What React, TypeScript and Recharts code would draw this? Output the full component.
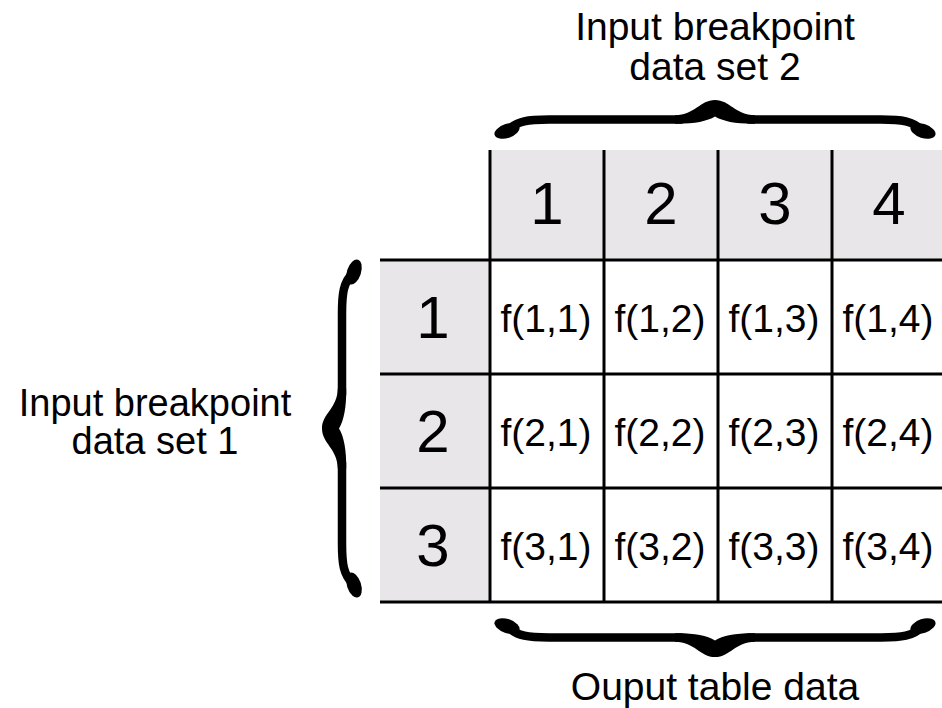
import React from 'react';
import { ComposedChart, XAxis, YAxis, ReferenceArea, ReferenceLine, Scatter } from 'recharts';

// ---- data ----
const colLabels = ['1', '2', '3', '4'];
const rowLabels = ['1', '2', '3'];
const cellLabels = [
  ['f(1,1)', 'f(1,2)', 'f(1,3)', 'f(1,4)'],
  ['f(2,1)', 'f(2,2)', 'f(2,3)', 'f(2,4)'],
  ['f(3,1)', 'f(3,2)', 'f(3,3)', 'f(3,4)'],
];
const topCaption = ['Input breakpoint', 'data set 2'];
const leftCaption = ['Input breakpoint', 'data set 1'];
const bottomCaption = ['Ouput table data'];

// ---- layout ----
const W = 942;
const H = 708;
const UNIT = 114; // px per grid unit
const X0 = 490; // px of grid origin
const Y0 = 260;
const HEAD = 110 / UNIT; // header band size in units
const xDomain: [number, number] = [-X0 / UNIT, (W - X0) / UNIT];
const yDomain: [number, number] = [-Y0 / UNIT, (H - Y0) / UNIT];
const px = (p: number, o: number) => (p - o) / UNIT; // px -> units helper for decorations

const FONT = '"Liberation Sans", Arial, Helvetica, sans-serif';
const INK = '#000';
const GREY = '#e9e6ea';

const colHeaderPts = colLabels.map((l, c) => ({ x: c + 0.5, y: -HEAD / 2, label: l }));
const rowHeaderPts = rowLabels.map((l, r) => ({ x: -HEAD / 2, y: r + 0.5, label: l }));
const cellPts = cellLabels.flatMap((row, r) => row.map((l, c) => ({ x: c + 0.5, y: r + 0.5, label: l })));

const textShape = (size: number, dy: number, dx = 0) => (props: any) => {
  const { cx, cy, payload } = props;
  if (cx == null || cy == null) return <g />;
  return (
    <text x={cx + dx} y={cy + dy} textAnchor="middle" fontSize={size} fontFamily={FONT} fill={INK}>
      {payload.label}
    </text>
  );
};

// brace drawn in local coords: along x (length L), thickness T, peak at y=0, tips at y=T
function Brace(L: number, T: number) {
  const sy = T * 0.5;
  const ty = T - 8;
  const m = L / 2;
  const left = `M 14 ${ty} C 24 ${sy + 1} 36 ${sy} 56 ${sy} L ${m - 34} ${sy}`;
  const right = `M ${m + 34} ${sy} L ${L - 56} ${sy} C ${L - 36} ${sy} ${L - 24} ${sy + 1} ${L - 14} ${ty}`;
  const bump =
    `M ${m - 40} ${sy - 4.2} C ${m - 20} ${sy - 4.5} ${m - 15} 0 ${m} 0 ` +
    `C ${m + 15} 0 ${m + 20} ${sy - 4.5} ${m + 40} ${sy - 4.2} ` +
    `L ${m + 40} ${sy + 4.2} C ${m + 22} ${sy + 4.5} ${m + 8} ${sy + 2} ${m} ${sy - 3} ` +
    `C ${m - 8} ${sy + 2} ${m - 22} ${sy + 4.5} ${m - 40} ${sy + 4.2} Z`;
  return (
    <g>
      <path d={left} fill="none" stroke={INK} strokeWidth={8.5} strokeLinecap="round" strokeLinejoin="round" />
      <path d={right} fill="none" stroke={INK} strokeWidth={8.5} strokeLinecap="round" strokeLinejoin="round" />
      <path d={bump} fill={INK} />
      <ellipse cx={14} cy={ty} rx={13} ry={7} transform={`rotate(-18 14 ${ty})`} fill={INK} />
      <ellipse cx={L - 14} cy={ty} rx={13} ry={7} transform={`rotate(18 ${L - 14} ${ty})`} fill={INK} />
    </g>
  );
}

const textLines = (lines: string[], cx: number, y0: number, lh: number, size: number) =>
  lines.map((t, i) => (
    <text key={i} x={cx} y={y0 + i * lh} textAnchor="middle" fontSize={size} fontFamily={FONT} fill={INK}>
      {t}
    </text>
  ));

const topBraceShape = (p: any) => {
  const { x, y, width, height } = p;
  return (
    <g>
      <g transform={`translate(${x} ${y})`}>{Brace(width, height)}</g>
      {textLines(topCaption, x + width / 2, y - 60, 40, 39)}
    </g>
  );
};

const bottomBraceShape = (p: any) => {
  const { x, y, width, height } = p;
  return (
    <g>
      <g transform={`translate(${x} ${y + height}) scale(1 -1)`}>{Brace(width, height)}</g>
      {textLines(bottomCaption, x + width / 2, y + height + 43, 40, 39)}
    </g>
  );
};

const leftBraceShape = (p: any) => {
  const { x, y, width, height } = p;
  return (
    <g>
      <g transform={`matrix(0 1 1 0 ${x} ${y})`}>{Brace(height, width)}</g>
      {textLines(leftCaption, x - 167, y + height / 2 - 13, 38, 38)}
    </g>
  );
};

export default function App() {
  const vLines = [0, 1, 2, 3];
  const hLines = [0, 1, 2, 3];
  return (
    <div style={{ width: W, height: H, background: '#fff' }}>
      <style>{'body{margin:0;background:#fff}'}</style>
      <ComposedChart width={W} height={H} margin={{ top: 0, right: 0, bottom: 0, left: 0 }}>
        <XAxis type="number" dataKey="x" domain={xDomain} allowDataOverflow hide />
        <YAxis type="number" dataKey="y" domain={yDomain} allowDataOverflow reversed hide />

        <ReferenceArea x1={0} x2={4} y1={-HEAD} y2={0} fill={GREY} fillOpacity={1} stroke="none" ifOverflow="hidden" />
        <ReferenceArea x1={-HEAD} x2={0} y1={0} y2={3} fill={GREY} fillOpacity={1} stroke="none" ifOverflow="hidden" />

        {vLines.map((v) => (
          <ReferenceLine
            key={'v' + v}
            segment={[{ x: v, y: -HEAD }, { x: v, y: 3 }]}
            stroke={INK}
            strokeWidth={3}
            ifOverflow="visible"
          />
        ))}
        {hLines.map((h) => (
          <ReferenceLine
            key={'h' + h}
            segment={[{ x: -HEAD, y: h }, { x: xDomain[1], y: h }]}
            stroke={INK}
            strokeWidth={3}
            ifOverflow="visible"
          />
        ))}

        <ReferenceArea
          x1={px(493, X0)} x2={px(937, X0)} y1={px(100, Y0)} y2={px(139, Y0)}
          ifOverflow="visible" shape={topBraceShape}
        />
        <ReferenceArea
          x1={px(493, X0)} x2={px(937, X0)} y1={px(618, Y0)} y2={px(657, Y0)}
          ifOverflow="visible" shape={bottomBraceShape}
        />
        <ReferenceArea
          x1={px(322, X0)} x2={px(362, X0)} y1={px(258, Y0)} y2={px(599, Y0)}
          ifOverflow="visible" shape={leftBraceShape}
        />

        <Scatter data={colHeaderPts} shape={textShape(60, 19)} isAnimationActive={false} />
        <Scatter data={rowHeaderPts} shape={textShape(60, 21, -2)} isAnimationActive={false} />
        <Scatter data={cellPts} shape={textShape(39, 15, -1)} isAnimationActive={false} />
      </ComposedChart>
    </div>
  );
}
